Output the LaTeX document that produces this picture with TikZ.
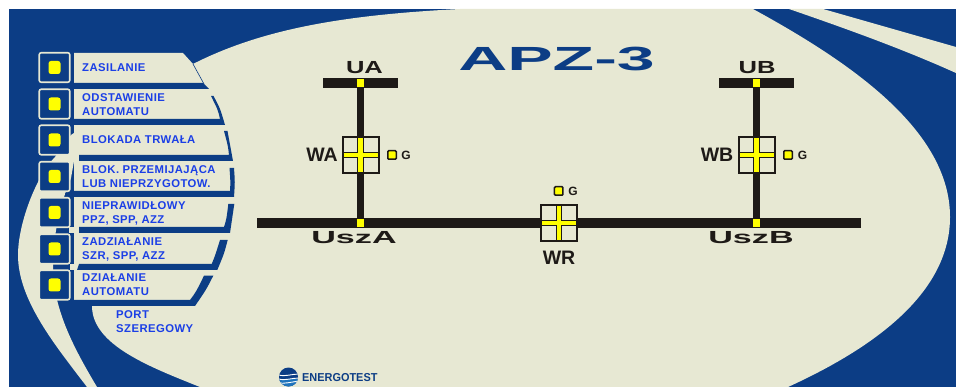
\documentclass[tikz,border=0pt]{standalone}
\usepackage{fontspec}
\setmainfont{Liberation Sans}
\usepackage{xcolor}
\definecolor{apzblue}{HTML}{0C3D85}
\definecolor{apzcream}{HTML}{E7E8D3}
\definecolor{apztext}{HTML}{1B3FE6}
\definecolor{apzdark}{HTML}{1E1A17}
\definecolor{apzyellow}{HTML}{FFFF00}
\definecolor{apzsky}{HTML}{1F74BC}
\newfontfamily\labelfont[LetterSpace=4]{Liberation Sans}
\tikzset{
	ledbox/.style={draw=apzcream, fill=apzblue, line width=1.6pt, rounded corners=2pt, minimum width=30.5pt, minimum height=29.5pt, inner sep=0pt},
	led/.style={fill=apzyellow, rounded corners=2.5pt, minimum width=12pt, minimum height=13pt, inner sep=0pt},
	rowlabel/.style={anchor=west, align=left, inner sep=0pt, text=apztext, font=\labelfont\bfseries\fontsize{11.3}{14}\selectfont},
	stripe/.style={fill=apzblue, draw=none},
	bus/.style={fill=apzdark, minimum height=10pt, inner sep=0pt},
	feeder/.style={apzdark, line width=7pt},
	breaker/.style={draw=apzdark, fill=apzcream, line width=2pt, minimum size=36pt, inner sep=0pt},
	crossdark/.style={apzdark, line width=6.5pt, shorten >=1pt, shorten <=1pt},
	crossyellow/.style={apzyellow, line width=4.5pt, shorten >=2pt, shorten <=2pt},
	tap/.style={fill=apzyellow, minimum size=7.5pt, inner sep=0pt},
	gled/.style={draw=apzdark, fill=apzyellow, line width=1.5pt, rounded corners=1pt, minimum size=8.5pt, inner sep=0pt},
	glabel/.style={text=apzdark, inner sep=0pt, font=\bfseries\fontsize{12}{14}\selectfont},
	wide/.style={text=apzdark, inner sep=0pt, font=\bfseries\fontsize{17.5}{20}\selectfont, xscale=#1, transform shape},
	tagname/.style={text=apzdark, inner sep=0pt, font=\bfseries\fontsize{19.5}{22}\selectfont}
}

\begin{document}
\begin{tikzpicture}[x=1pt, y=-1pt]
	\useasboundingbox (0,0) rectangle (956,387);
	\fill[apzblue] (9,9) rectangle (956,387);
	
	% Large cream area with the label panel on its left
	\fill[apzcream] (460,9) -- (753,9) .. controls (850,62) and (950,130) .. (950,217)
		.. controls (950,290) and (880,345) .. (788,387) -- (200,387)
		.. controls (150,367) and (92,345) .. (92,306) -- (74,306) -- (74,53) -- (183,53) -- (193,64)
		.. controls (260,30) and (340,15) .. (460,9) -- cycle;
	
	% Cream bands
	\fill[apzcream] (789,9) .. controls (850,30) and (905,50) .. (956,73) -- (956,47) -- (823,9) -- cycle;
	\fill[apzcream] (74,133) -- (71,135) -- (55,157) .. controls (35,178) and (18,225) .. (18,255)
		.. controls (18,300) and (55,345) .. (87,387) -- (97,387)
		.. controls (75,350) and (53,310) .. (53,267) .. controls (53,240) and (58,215) .. (65,194)
		-- (71,178) -- (74,161) -- (79,161) -- (79,155) -- (74,155) -- cycle;
	
	% Blue stripes under the labels
	\draw[apzblue, line width=0.6pt] (193,64) -- (204,84);
	\fill[stripe] (74,83) -- (203,83) -- (209,89) -- (74,89) -- cycle;
	\fill[stripe] (74,119) -- (220,119) .. controls (218,110) .. (211,96) -- (213.5,96) .. controls (220,108) .. (225,125) -- (74,125) -- cycle;
	\fill[stripe] (79,155) -- (229,155) .. controls (228,146) .. (224,131) -- (227.5,131) .. controls (231,146) .. (233,161) -- (79,161) -- cycle;
	\fill[stripe] (65,194) -- (68,191) -- (230,191) .. controls (230.5,182) .. (229.5,168) -- (234,168) .. controls (235,182) .. (234,197) -- (68,197) -- cycle;
	\fill[stripe] (79,227) -- (224,227) .. controls (226.5,219) .. (228.3,204) -- (234.3,204) .. controls (233,219) .. (230,233) -- (79,233) -- cycle;
	\fill[stripe] (79,264) -- (211.7,264) .. controls (215,256) .. (220,240) -- (227.7,240) .. controls (224,254) .. (217.3,270) -- (77,270) -- cycle;
	\fill[stripe] (74,300) -- (190,300) .. controls (196,292) .. (204,275.7) -- (213.3,275.7) .. controls (206,290) .. (195,306) -- (74,306) -- cycle;
	\fill[apzcream] (69,227) rectangle (79,233);
	\fill[apzcream] (70,264) rectangle (77,270);
	
	% LED boxes
	\node[ledbox] (box1) at (54.5,67.5) {};
	\node[ledbox] (box2) at (54.5,104) {};
	\node[ledbox] (box3) at (54.5,140) {};
	\node[ledbox] (box4) at (54.5,176.5) {};
	\node[ledbox] (box5) at (54.5,212.5) {};
	\node[ledbox] (box6) at (54.5,249) {};
	\node[ledbox] (box7) at (54.5,285) {};
	\node[led] (led1) at (box1) {};
	\node[led] (led2) at (box2) {};
	\node[led] (led3) at (box3) {};
	\node[led] (led4) at (box4) {};
	\node[led] (led5) at (box5) {};
	\node[led] (led6) at (box6) {};
	\node[led] (led7) at (box7) {};
	
	% Row labels
	\node[rowlabel] (lab1) at (82,68) {ZASILANIE};
	\node[rowlabel] (lab2) at (82,105) {ODSTAWIENIE\\AUTOMATU};
	\node[rowlabel] (lab3) at (82,140) {BLOKADA TRWAŁA};
	\node[rowlabel] (lab4) at (82,177) {BLOK. PRZEMIJAJĄCA\\LUB NIEPRZYGOTOW.};
	\node[rowlabel] (lab5) at (82,213) {NIEPRAWIDŁOWY\\PPZ, SPP, AZZ};
	\node[rowlabel] (lab6) at (82,249) {ZADZIAŁANIE\\SZR, SPP, AZZ};
	\node[rowlabel] (lab7) at (82,285) {DZIAŁANIE\\AUTOMATU};
	\node[rowlabel] (port) at (116,321.5) {PORT\\SZEREGOWY};
	
	% Title
	\node[inner sep=0pt, text=apzblue, font=\bfseries\fontsize{33.5}{36}\selectfont, xscale=2.03, transform shape] (title) at (556.5,59) {APZ-3};
	
	% Busbars
	\node[bus, minimum width=75pt] (busUA) at (360.5,83) {};
	\node[bus, minimum width=75pt] (busUB) at (756.5,83) {};
	\node[bus, minimum width=604pt] (busUsz) at (559,223) {};
	\coordinate (juncA) at (360.5,223);
	\coordinate (juncB) at (756.5,223);
	
	% Breakers
	\node[breaker] (wa) at (360.5,155) {};
	\node[breaker] (wb) at (756.5,155) {};
	\node[breaker] (wr) at (559,223) {};
	\draw[feeder] (busUA) -- (wa);
	\draw[feeder] (wa) -- (juncA);
	\draw[feeder] (busUB) -- (wb);
	\draw[feeder] (wb) -- (juncB);
	\draw[crossdark] (wa.north) -- (wa.south);
	\draw[crossdark] (wa.west) -- (wa.east);
	\draw[crossyellow] (wa.north) -- (wa.south);
	\draw[crossyellow] (wa.west) -- (wa.east);
	\draw[crossdark] (wb.north) -- (wb.south);
	\draw[crossdark] (wb.west) -- (wb.east);
	\draw[crossyellow] (wb.north) -- (wb.south);
	\draw[crossyellow] (wb.west) -- (wb.east);
	\draw[crossdark] (wr.north) -- (wr.south);
	\draw[crossdark] (wr.west) -- (wr.east);
	\draw[crossyellow] (wr.north) -- (wr.south);
	\draw[crossyellow] (wr.west) -- (wr.east);
	
	% Yellow taps on the busbars
	\node[tap] (tapUA) at (360.5,83) {};
	\node[tap] (tapUB) at (756.5,83) {};
	\node[tap] (tapA) at (juncA) {};
	\node[tap] (tapB) at (juncB) {};
	
	% G markers
	\node[gled] (ga) at (392,155) {};
	\node[gled] (gb) at (788,155) {};
	\node[gled] (gr) at (558.7,191) {};
	\node[glabel] (gatext) at (406,155.5) {G};
	\node[glabel] (gbtext) at (802.5,155.5) {G};
	\node[glabel] (grtext) at (573,191) {G};
	
	% Names
	\node[wide=1.46] (ua) at (364.5,68) {UA};
	\node[wide=1.46] (ub) at (757,68) {UB};
	\node[wide=1.95] (usza) at (354,238) {UszA};
	\node[wide=1.95] (uszb) at (751,238) {UszB};
	\node[tagname] (walab) at (322,155) {WA};
	\node[tagname] (wblab) at (717,155) {WB};
	\node[tagname] (wrlab) at (559,258) {WR};
	
	% Logo
	\node[circle, fill=apzblue, minimum size=19pt, inner sep=0pt] (logo) at (288.5,377) {};
	\begin{scope}
		\clip (288.5,377) circle (9.5);
		\fill[apzsky] (279,379) rectangle (298,387);
		\draw[white, line width=0.9pt] (278,375) .. controls (284,377) and (292,374) .. (299,374);
		\draw[white, line width=0.9pt] (278,379) .. controls (284,381) and (292,378) .. (299,378);
		\draw[white, line width=0.9pt] (278,383) .. controls (284,384) and (292,382) .. (299,381);
	\end{scope}
	\node[anchor=west, inner sep=0pt, text=apzblue, font=\bfseries\fontsize{11.5}{13}\selectfont, xscale=0.95, transform shape] (brand) at (302,377.5) {ENERGOTEST};
\end{tikzpicture}
\end{document}
